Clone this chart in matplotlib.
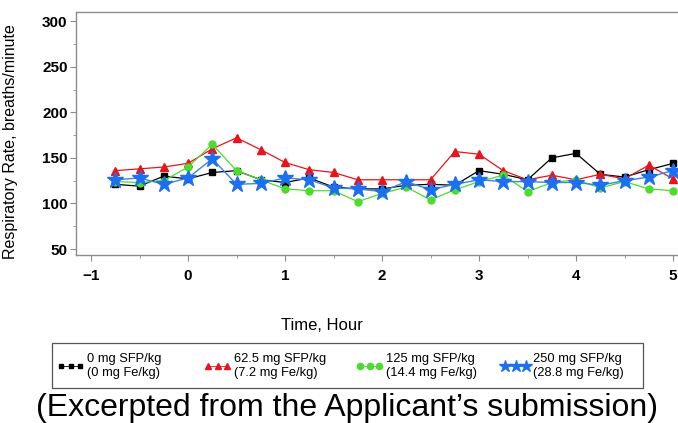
import matplotlib.pyplot as plt
from matplotlib.lines import Line2D
from matplotlib.patches import Rectangle
from matplotlib.ticker import MultipleLocator

plt.rcParams['font.family'] = ['Liberation Sans', 'DejaVu Sans']

# time points (hours) and mean respiratory rate per dose group
hours = [-0.75, -0.5, -0.25, 0, 0.25, 0.5, 0.75, 1, 1.25, 1.5, 1.75, 2,
         2.25, 2.5, 2.75, 3, 3.25, 3.5, 3.75, 4, 4.25, 4.5, 4.75, 5]
rr_0mg = [121, 119, 130, 127, 134, 136, 126, 123, 128, 118, 116, 116,
          120, 121, 120, 136, 132, 126, 150, 155, 132, 129, 137, 144]
rr_62mg = [136, 138, 140, 144, 160, 172, 159, 145, 137, 134, 126, 126,
           126, 126, 157, 154, 136, 126, 131, 126, 132, 127, 142, 127]
rr_125mg = [124, 123, 125, 140, 165, 136, 126, 116, 114, 114, 102, 111,
            118, 104, 115, 124, 131, 113, 123, 126, 117, 124, 116, 114]
rr_250mg = [126, 128, 121, 128, 149, 121, 122, 128, 126, 117, 116, 113,
            124, 115, 121, 126, 124, 124, 123, 123, 120, 125, 129, 136]

labels = ['0 mg SFP/kg\n(0 mg Fe/kg)', '62.5 mg SFP/kg\n(7.2 mg Fe/kg)',
          '125 mg SFP/kg\n(14.4 mg Fe/kg)', '250 mg SFP/kg\n(28.8 mg Fe/kg)']

W, H = 678, 423
fig = plt.figure(figsize=(W / 100, H / 100), dpi=100)
ax = fig.add_axes([76 / W, 1 - 255 / H, (690 - 76) / W, (255 - 12) / H])

styles = [
    dict(marker='s', color='black', ms=4.5, lw=0.9),
    dict(marker='^', color='#e8141c', ms=6, lw=0.9),
    dict(marker='o', color='#4cdc2c', ms=5, lw=0.9),
    dict(marker='*', color='#3b86e0', mfc='#1c6ff0', mec='#1c6ff0',
         ms=12, lw=1.0),
]
for y, st in zip([rr_0mg, rr_62mg, rr_125mg, rr_250mg], styles):
    ax.plot(hours, y, '-', **st)

ax.set_xlim(-1.155, 5.175)
ax.set_ylim(43.5, 310)
ax.set_xticks(range(-1, 6))
ax.set_xticklabels(['\u22121', '0', '1', '2', '3', '4', '5'])
ax.set_yticks(range(50, 301, 50))
ax.xaxis.set_minor_locator(MultipleLocator(0.5))
ax.yaxis.set_minor_locator(MultipleLocator(25))

for s in ax.spines.values():
    s.set_color('#8c8c8c')
    s.set_linewidth(1.0)
ax.tick_params(which='both', direction='out', color='#8c8c8c', labelsize=11)
ax.tick_params(which='major', length=4)
ax.tick_params(which='minor', length=2.5)
ax.tick_params(axis='x', pad=6)
ax.tick_params(axis='y', pad=2)
for t in ax.get_xticklabels() + ax.get_yticklabels():
    t.set_fontweight('bold')

ax.set_xlabel('Time, Hour', fontsize=12)
ax.xaxis.set_label_coords((322 - 76) / (690 - 76), -(318 - 255) / (255 - 12))
ax.set_ylabel('Respiratory Rate, breaths/minute', fontsize=11.5)
ax.yaxis.set_label_coords(-(76 - 18) / (690 - 76), (255 - 142) / (255 - 12))

# legend box drawn in pixel positions below the axes
def fx(px):
    return px / W

def fy(py):
    return 1 - py / H

fig.add_artist(Rectangle((fx(52), fy(388)), fx(643) - fx(52), fy(343) - fy(388),
                         transform=fig.transFigure, fill=False,
                         edgecolor='#555555', lw=0.9))
leg_x = [58, 205, 357, 502]
leg_ms = [3.5, 5, 4.5, 9]
for x0, st, ms, lab in zip(leg_x, styles, leg_ms, labels):
    step = 10.5 if st['marker'] == '*' else 9.5
    xs = [fx(x0 + 3 + i * step) for i in range(3)]
    kw = {k: v for k, v in st.items() if k not in ('ms', 'lw')}
    fig.add_artist(Line2D(xs, [fy(366)] * 3, transform=fig.transFigure,
                          ls='-', lw=0.6, ms=ms, **kw))
    fig.text(fx(x0 + 3 + 2 * step + 7), fy(366), lab, ha='left', va='center',
             fontsize=9.3, linespacing=1.3)

fig.text(fx(347), fy(408), '(Excerpted from the Applicant\u2019s submission)',
         ha='center', va='center', fontsize=23)

fig.savefig('out.png', dpi=100)
